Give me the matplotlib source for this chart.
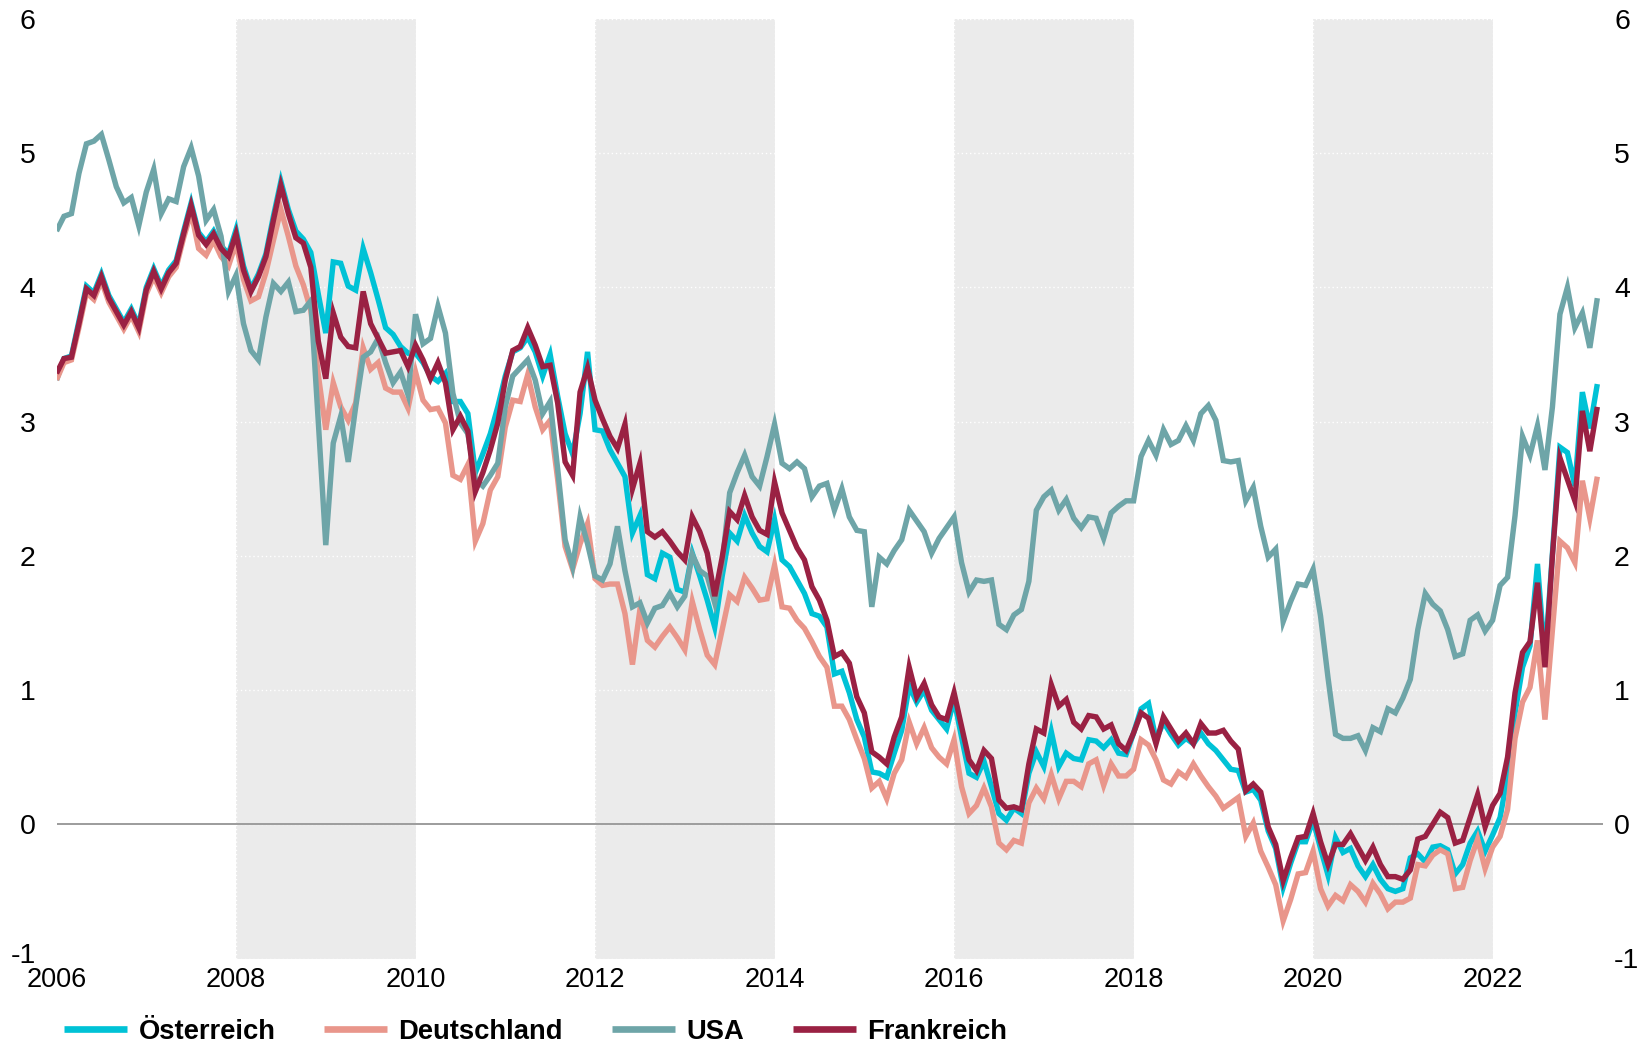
import numpy as np
import matplotlib
matplotlib.use("Agg")
import matplotlib.pyplot as plt
import matplotlib.transforms as mtransforms
from matplotlib.lines import Line2D

# ---------------- data (monthly, Jan 2006 - Mar 2023) ----------------
start_year = 2006
series_names = ["Österreich", "Deutschland", "USA", "Frankreich"]

oesterreich = [
    3.31, 3.47, 3.49, 3.75, 4.01, 3.96, 4.10, 3.94, 3.84, 3.74,
    3.84, 3.72, 4.00, 4.14, 4.01, 4.13, 4.20, 4.42, 4.63, 4.41,
    4.34, 4.42, 4.31, 4.25, 4.43, 4.16, 3.99, 4.10, 4.25, 4.53,
    4.79, 4.58, 4.42, 4.36, 4.26, 3.95, 3.66,
    4.19, 4.18, 4.01, 3.98, 4.29, 4.11, 3.91, 3.70, 3.65, 3.56,
    3.51, 3.51, 3.44, 3.34, 3.30, 3.36, 3.15, 3.15, 3.06, 2.62,
    2.76, 2.91, 3.11, 3.34, 3.52, 3.55, 3.63, 3.52, 3.34, 3.50,
    3.19, 2.91, 2.76, 3.06,
    3.52, 2.94, 2.93, 2.79, 2.69, 2.59, 2.17, 2.30, 1.86, 1.83,
    2.02, 1.99, 1.75, 1.73, 2.02, 1.85, 1.67, 1.47, 1.85, 2.17,
    2.11, 2.30, 2.17, 2.07, 2.03, 2.27, 1.97, 1.92, 1.82, 1.72,
    1.57, 1.55, 1.47, 1.12, 1.14,
    0.98, 0.78, 0.65, 0.39, 0.38, 0.35, 0.53, 0.70, 1.03, 0.91,
    1.00, 0.85, 0.78, 0.71, 0.93, 0.65, 0.38, 0.35, 0.47, 0.28,
    0.08, 0.03, 0.12, 0.08, 0.38, 0.54, 0.43, 0.69, 0.43, 0.53,
    0.49, 0.48, 0.63, 0.62,
    0.57, 0.63, 0.53, 0.52, 0.68, 0.86, 0.90, 0.63, 0.76, 0.67,
    0.59, 0.64, 0.60, 0.68, 0.60, 0.55, 0.48, 0.41, 0.40, 0.24,
    0.26, 0.18, -0.05, -0.18, -0.47, -0.29, -0.13, -0.13, 0.03, -0.18,
    -0.38, -0.10, -0.21,
    -0.18, -0.31, -0.39, -0.30, -0.41, -0.48, -0.50, -0.48, -0.25, -0.22,
    -0.28, -0.17, -0.16, -0.19, -0.37, -0.30, -0.14, -0.05, -0.20, -0.08,
    0.05, 0.36, 0.83, 1.17, 1.33, 1.94, 1.23, 2.02, 2.81, 2.77,
    2.52, 3.22, 2.95, 3.28,
]

deutschland = [
    3.31, 3.44, 3.46, 3.70, 3.96, 3.91, 4.05, 3.89, 3.79, 3.69,
    3.79, 3.67, 3.95, 4.08, 3.96, 4.08, 4.15, 4.37, 4.56, 4.29,
    4.24, 4.35, 4.23, 4.16, 4.33, 4.06, 3.90, 3.93, 4.11, 4.35,
    4.58, 4.38, 4.16, 4.02, 3.83, 3.35, 2.94,
    3.29, 3.11, 3.01, 3.14, 3.55, 3.39, 3.44, 3.25, 3.22, 3.22,
    3.10, 3.37, 3.16, 3.09, 3.10, 2.99, 2.60, 2.57, 2.68, 2.11,
    2.24, 2.49, 2.59, 2.96, 3.16, 3.15, 3.35, 3.11, 2.94, 3.01,
    2.57, 2.07, 1.90, 2.09,
    2.24, 1.83, 1.78, 1.79, 1.79, 1.57, 1.19, 1.60, 1.37, 1.32,
    1.40, 1.47, 1.39, 1.30, 1.66, 1.45, 1.26, 1.19, 1.45, 1.71,
    1.66, 1.84, 1.76, 1.67, 1.68, 1.93, 1.62, 1.61, 1.52, 1.46,
    1.36, 1.25, 1.17, 0.88, 0.88,
    0.78, 0.63, 0.49, 0.27, 0.32, 0.19, 0.38, 0.48, 0.76, 0.60,
    0.72, 0.57, 0.50, 0.45, 0.63, 0.28, 0.08, 0.14, 0.27, 0.13,
    -0.14, -0.19, -0.12, -0.14, 0.16, 0.27, 0.19, 0.37, 0.19, 0.32,
    0.32, 0.28, 0.45, 0.48,
    0.29, 0.45, 0.36, 0.36, 0.41, 0.63, 0.59, 0.48, 0.33, 0.30,
    0.39, 0.35, 0.45, 0.36, 0.28, 0.21, 0.12, 0.16, 0.20, -0.09,
    0.01, -0.20, -0.32, -0.45, -0.72, -0.56, -0.37, -0.36, -0.20, -0.48,
    -0.61, -0.53, -0.57,
    -0.45, -0.50, -0.58, -0.44, -0.52, -0.63, -0.58, -0.58, -0.55, -0.30,
    -0.31, -0.23, -0.19, -0.22, -0.48, -0.47, -0.27, -0.11, -0.33, -0.17,
    -0.09, 0.11, 0.64, 0.91, 1.02, 1.37, 0.78, 1.45, 2.11, 2.06,
    1.95, 2.56, 2.28, 2.59,
]

usa = [
    4.42, 4.53, 4.55, 4.85, 5.07, 5.09, 5.14, 4.95, 4.75, 4.63,
    4.67, 4.46, 4.71, 4.88, 4.55, 4.66, 4.64, 4.90, 5.04, 4.83,
    4.50, 4.58, 4.38, 3.97, 4.09, 3.73, 3.53, 3.46, 3.78, 4.03,
    3.97, 4.04, 3.82, 3.83, 3.90, 3.00,
    2.08, 2.84, 3.04, 2.70, 3.11, 3.48, 3.52, 3.62, 3.44, 3.29,
    3.37, 3.20, 3.80, 3.58, 3.62, 3.86, 3.66, 3.21, 2.99, 2.91,
    2.57, 2.52, 2.60, 2.69, 3.11, 3.34, 3.40, 3.46, 3.31, 3.06,
    3.15, 2.65, 2.12, 1.92, 2.29,
    2.09, 1.85, 1.82, 1.94, 2.22, 1.89, 1.62, 1.65, 1.50, 1.61,
    1.63, 1.72, 1.62, 1.70, 2.01, 1.89, 1.85, 1.65, 1.94, 2.47,
    2.62, 2.75, 2.59, 2.52, 2.74, 2.98, 2.69, 2.65, 2.70, 2.65,
    2.44, 2.52, 2.54, 2.34, 2.50,
    2.29, 2.19, 2.18, 1.62, 1.99, 1.94, 2.04, 2.12, 2.34, 2.26,
    2.18, 2.02, 2.13, 2.21, 2.29, 1.95, 1.73, 1.82, 1.81, 1.82,
    1.49, 1.45, 1.56, 1.60, 1.81, 2.34, 2.44, 2.49, 2.34, 2.42,
    2.28, 2.21, 2.29, 2.28,
    2.13, 2.32, 2.37, 2.41, 2.41, 2.74, 2.86, 2.75, 2.94, 2.83,
    2.86, 2.97, 2.86, 3.06, 3.12, 3.01, 2.71, 2.70, 2.71, 2.41,
    2.51, 2.22, 1.99, 2.05, 1.51, 1.66, 1.79, 1.78, 1.90, 1.55,
    1.09, 0.67, 0.64,
    0.64, 0.66, 0.55, 0.72, 0.69, 0.86, 0.83, 0.94, 1.08, 1.45,
    1.72, 1.64, 1.59, 1.45, 1.25, 1.27, 1.52, 1.56, 1.44, 1.52,
    1.78, 1.84, 2.30, 2.89, 2.75, 2.97, 2.64, 3.11, 3.80, 4.00,
    3.70, 3.81, 3.55, 3.92,
]

frankreich = [
    3.36, 3.47, 3.48, 3.73, 3.99, 3.94, 4.08, 3.92, 3.82, 3.72,
    3.82, 3.70, 3.98, 4.12, 3.99, 4.11, 4.18, 4.40, 4.61, 4.39,
    4.32, 4.40, 4.29, 4.23, 4.40, 4.13, 3.97, 4.08, 4.23, 4.50,
    4.76, 4.55, 4.37, 4.33, 4.15, 3.60, 3.32,
    3.81, 3.63, 3.56, 3.55, 3.97, 3.73, 3.62, 3.51, 3.52, 3.53,
    3.41, 3.57, 3.46, 3.32, 3.44, 3.29, 2.94, 3.04, 2.93, 2.48,
    2.62, 2.79, 2.99, 3.31, 3.53, 3.56, 3.70, 3.57, 3.41, 3.42,
    3.14, 2.70, 2.60, 3.22,
    3.40, 3.16, 3.02, 2.89, 2.80, 2.98, 2.50, 2.69, 2.18, 2.14,
    2.18, 2.11, 2.03, 1.97, 2.29, 2.18, 2.02, 1.70, 1.99, 2.33,
    2.27, 2.45, 2.29, 2.19, 2.16, 2.55, 2.32, 2.19, 2.06, 1.97,
    1.77, 1.67, 1.52, 1.25, 1.28,
    1.20, 0.95, 0.83, 0.54, 0.50, 0.45, 0.65, 0.80, 1.17, 0.95,
    1.05, 0.89, 0.80, 0.78, 0.98, 0.73, 0.48, 0.40, 0.55, 0.49,
    0.18, 0.12, 0.13, 0.11, 0.45, 0.71, 0.68, 1.04, 0.88, 0.93,
    0.76, 0.71, 0.81, 0.80,
    0.71, 0.74, 0.60, 0.55, 0.68, 0.83, 0.79, 0.60, 0.80, 0.71,
    0.62, 0.68, 0.60, 0.75, 0.68, 0.68, 0.70, 0.62, 0.56, 0.25,
    0.30, 0.24, -0.02, -0.15, -0.42, -0.25, -0.10, -0.09, 0.08, -0.13,
    -0.30, -0.15, -0.15,
    -0.07, -0.17, -0.27, -0.17, -0.30, -0.39, -0.39, -0.41, -0.34, -0.11,
    -0.09, 0.00, 0.09, 0.05, -0.14, -0.12, 0.05, 0.22, -0.02, 0.14,
    0.23, 0.50, 0.98, 1.28, 1.36, 1.80, 1.17, 2.00, 2.73, 2.57,
    2.41, 3.08, 2.78, 3.11,
]

x_tick_years = [2006, 2008, 2010, 2012, 2014, 2016, 2018, 2020, 2022]
y_ticks = [-1, 0, 1, 2, 3, 4, 5, 6]
shaded_periods = [(2008, 2010), (2012, 2014), (2016, 2018), (2020, 2022)]

colors = ["#00C2D6", "#E9968B", "#6EA5A8", "#9A2143"]

# ---------------- figure ----------------
W, H = 1646, 1045
fig = plt.figure(figsize=(W / 100, H / 100), dpi=100)
left_px, right_px, top_px, bottom_px = 56.5, 1603, 19, 958.5
ax = fig.add_axes([left_px / W, (H - bottom_px) / H,
                   (right_px - left_px) / W, (bottom_px - top_px) / H])

n = len(usa)
x = start_year + np.arange(n) / 12.0

for a, b in shaded_periods:
    ax.axvspan(a, b, color="#EBEBEB", lw=0, zorder=0.5)

for yv in y_ticks:
    ax.axhline(yv, color="white", lw=1.0, ls=(0, (1, 2)), zorder=0.8)
for xv in x_tick_years:
    ax.axvline(xv, color="white", lw=1.0, ls=(0, (1, 2)), zorder=0.8)

ax.axhline(0, color="#9C9C9C", lw=1.4, zorder=1.0)

data = [oesterreich, deutschland, usa, frankreich]
for k, (name, vals, col) in enumerate(zip(series_names, data, colors)):
    ax.plot(x, vals, color=col, lw=3.9, solid_joinstyle="miter",
            solid_capstyle="butt", zorder=2 + k, label=name)

ax.set_xlim(2006, 2023.23)
ax.set_ylim(-1, 6)
ax.set_xticks(x_tick_years)
ax.set_xticklabels([str(v) for v in x_tick_years])
ax.set_yticks(y_ticks)
ax.set_yticklabels([str(v) for v in y_ticks])

for s in ax.spines.values():
    s.set_visible(False)

font = "Liberation Sans"
ax.tick_params(axis="x", length=0, pad=6, labelsize=19.5, labelcolor="black")
ax.tick_params(axis="y", length=0, pad=15, labelsize=20.5, labelcolor="black")
for lab in ax.get_xticklabels() + ax.get_yticklabels():
    lab.set_fontfamily(font)

# lift the bottom-left "-1" a touch so it does not collide with "2006"
lift = mtransforms.ScaledTranslation(0, 4 / 72, fig.dpi_scale_trans)
ax.get_yticklabels()[0].set_transform(ax.get_yticklabels()[0].get_transform() + lift)

ax2 = ax.twinx()
ax2.set_ylim(-1, 6)
ax2.set_yticks(y_ticks)
ax2.set_yticklabels([str(v) for v in y_ticks])
ax2.tick_params(axis="y", length=0, pad=8, labelsize=20.5, labelcolor="black")
for lab in ax2.get_yticklabels():
    lab.set_fontfamily(font)
for s in ax2.spines.values():
    s.set_visible(False)

handles = [Line2D([0], [0], color=c, lw=4.8, solid_capstyle="butt") for c in colors]
fig.legend(handles, series_names, loc="center left",
           bbox_to_anchor=(64 / W, (H - 1032) / H), ncol=4, frameon=False,
           borderpad=0, borderaxespad=0, handlelength=2.3, handletextpad=0.42,
           columnspacing=1.78,
           prop={"family": font, "weight": "bold", "size": 19.7})

fig.savefig("out.png", dpi=100)
